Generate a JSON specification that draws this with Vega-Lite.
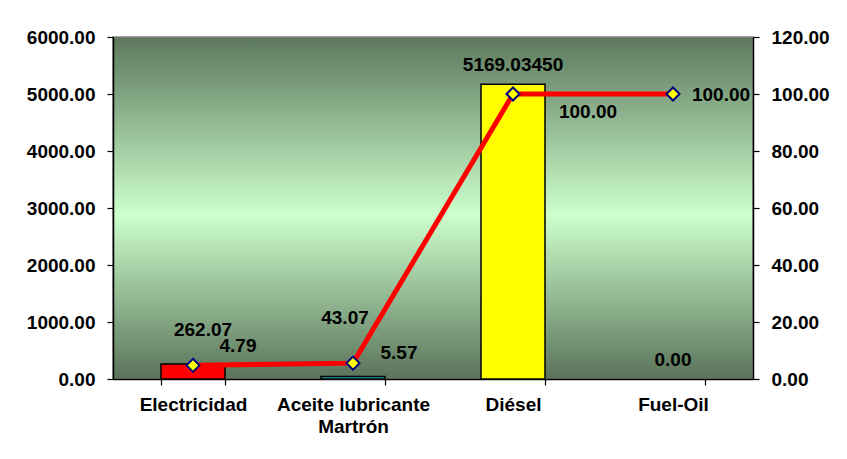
{
  "$schema": "https://vega.github.io/schema/vega-lite/v6.json",
  "autosize": "none",
  "width": 640,
  "height": 342,
  "padding": {"left": 113, "top": 37, "right": 94, "bottom": 80},
  "background": "white",
  "data": {
    "values": [
      {"categoria": "Electricidad", "valor": 262.07, "acumulado": 4.79},
      {"categoria": "Aceite lubricante Martrón", "valor": 43.07, "acumulado": 5.57},
      {"categoria": "Diésel", "valor": 5169.0345, "acumulado": 100.0},
      {"categoria": "Fuel-Oil", "valor": 0, "acumulado": 100.0}
    ]
  },
  "config": {
    "view": {
      "stroke": "#808080",
      "strokeWidth": 1.5,
      "fill": {
        "gradient": "linear",
        "x1": 0, "y1": 0, "x2": 0, "y2": 1,
        "stops": [
          {"offset": 0, "color": "#5d785d"},
          {"offset": 0.52, "color": "#ccffcc"},
          {"offset": 1, "color": "#5a735a"}
        ]
      }
    },
    "axis": {
      "grid": false,
      "title": null,
      "labelFont": "Liberation Sans",
      "labelFontWeight": "bold",
      "labelFontSize": 19,
      "labelColor": "#000000",
      "domainColor": "#000000",
      "domainWidth": 1.5,
      "tickColor": "#000000",
      "tickWidth": 1.2,
      "tickSize": 6
    },
    "text": {"font": "Liberation Sans", "fontWeight": "bold", "fontSize": 19, "color": "#000000", "baseline": "middle"}
  },
  "encoding": {
    "x": {
      "field": "categoria",
      "type": "nominal",
      "sort": null,
      "scale": {"paddingInner": 0.6, "paddingOuter": 0.3},
      "axis": {
        "labelAngle": 0,
        "labelPadding": 10,
        "labelLineHeight": 22,
        "labelBaseline": "top",
        "tickBand": "extent",
        "labelExpr": "datum.value == 'Aceite lubricante Martrón' ? ['Aceite lubricante', 'Martrón'] : datum.value"
      }
    }
  },
  "layer": [
    {
      "encoding": {
        "y": {
          "field": "valor",
          "type": "quantitative",
          "scale": {"domain": [0, 6000], "nice": false},
          "axis": {"orient": "left", "values": [0, 1000, 2000, 3000, 4000, 5000, 6000], "format": ".2f", "labelPadding": 12}
        }
      },
      "layer": [
        {
          "transform": [{"filter": "datum.valor > 0"}],
          "mark": {"type": "bar", "stroke": "#000000", "strokeWidth": 1.5},
          "encoding": {
            "color": {
              "field": "categoria",
              "type": "nominal",
              "scale": {
                "domain": ["Electricidad", "Aceite lubricante Martrón", "Diésel", "Fuel-Oil"],
                "range": ["#ff0000", "#1fa9c9", "#ffff00", "#9999ff"]
              },
              "legend": null
            }
          }
        },
        {
          "transform": [{"filter": "datum.categoria == 'Diésel'"}],
          "mark": {"type": "text", "dy": -19},
          "encoding": {"text": {"field": "valor", "type": "quantitative", "format": ".5f"}}
        },
        {
          "transform": [{"filter": "datum.categoria == 'Fuel-Oil'"}],
          "mark": {"type": "text", "dy": -19},
          "encoding": {"text": {"field": "valor", "type": "quantitative", "format": ".2f"}}
        },
        {
          "transform": [{"filter": "datum.categoria == 'Electricidad'"}],
          "mark": {"type": "text", "dx": 10, "dy": -34},
          "encoding": {"text": {"field": "valor", "type": "quantitative", "format": ".2f"}}
        },
        {
          "transform": [{"filter": "datum.categoria == 'Aceite lubricante Martrón'"}],
          "mark": {"type": "text", "dx": -8, "dy": -59},
          "encoding": {"text": {"field": "valor", "type": "quantitative", "format": ".2f"}}
        }
      ]
    },
    {
      "encoding": {
        "y": {
          "field": "acumulado",
          "type": "quantitative",
          "scale": {"domain": [0, 120], "nice": false},
          "axis": {"orient": "right", "values": [0, 20, 40, 60, 80, 100, 120], "format": ".2f", "labelPadding": 12}
        }
      },
      "layer": [
        {"mark": {"type": "line", "color": "#ff0000", "strokeWidth": 5}},
        {
          "mark": {"type": "point", "shape": "diamond", "filled": true, "fill": "#ffff00", "stroke": "#000080", "strokeWidth": 2, "size": 170, "opacity": 1}
        },
        {
          "transform": [{"filter": "datum.categoria == 'Electricidad'"}],
          "mark": {"type": "text", "dx": 45, "dy": -19},
          "encoding": {"text": {"field": "acumulado", "type": "quantitative", "format": ".2f"}}
        },
        {
          "transform": [{"filter": "datum.categoria == 'Aceite lubricante Martrón'"}],
          "mark": {"type": "text", "dx": 46, "dy": -10},
          "encoding": {"text": {"field": "acumulado", "type": "quantitative", "format": ".2f"}}
        },
        {
          "transform": [{"filter": "datum.categoria == 'Diésel'"}],
          "mark": {"type": "text", "dx": 75, "dy": 18},
          "encoding": {"text": {"field": "acumulado", "type": "quantitative", "format": ".2f"}}
        },
        {
          "transform": [{"filter": "datum.categoria == 'Fuel-Oil'"}],
          "mark": {"type": "text", "dx": 48, "dy": 1},
          "encoding": {"text": {"field": "acumulado", "type": "quantitative", "format": ".2f"}}
        }
      ]
    }
  ],
  "resolve": {"scale": {"y": "independent", "color": "independent"}}
}
